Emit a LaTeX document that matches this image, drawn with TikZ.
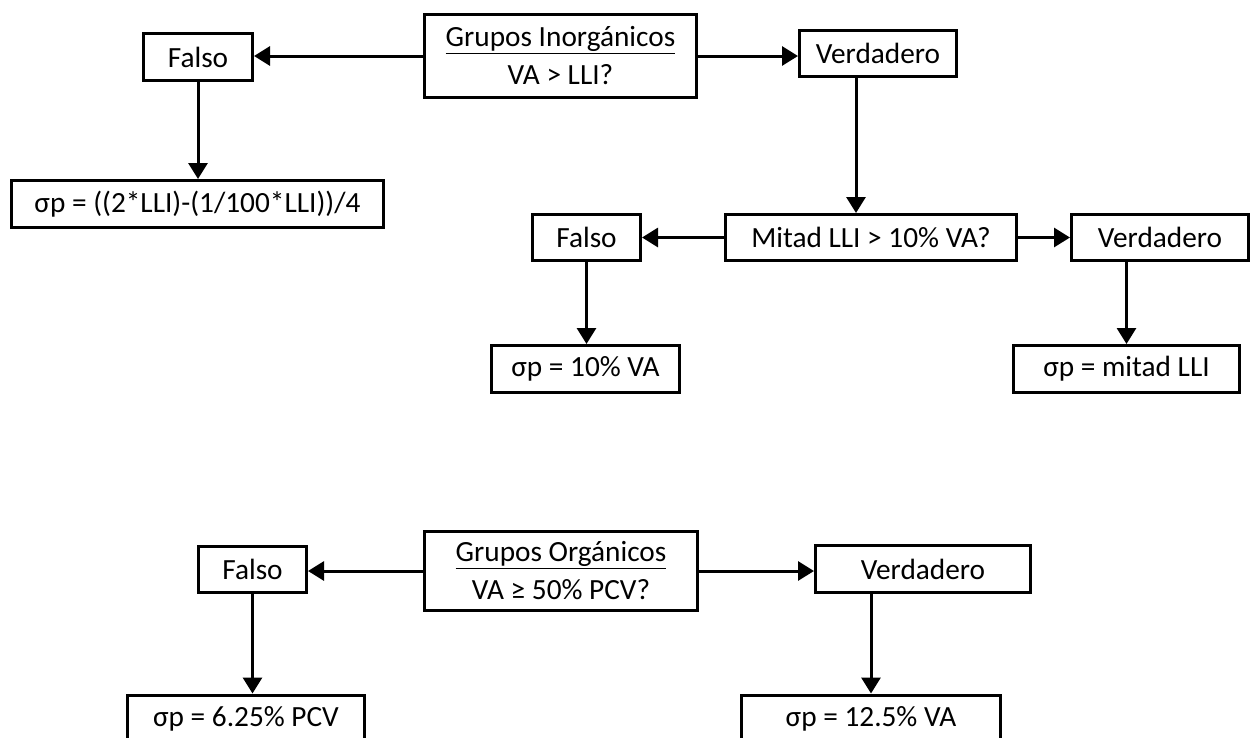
\documentclass[tikz,border=0pt]{standalone}
\usepackage{fontspec}
\setmainfont{Carlito}
\usetikzlibrary{arrows.meta}
\begin{document}
\begin{tikzpicture}[x=1pt,y=-1pt,
  box/.style={draw,line width=3pt,rectangle,inner sep=0pt,align=center,
    font=\fontsize{29.3}{38}\selectfont},
  arr/.style={line width=3pt,-{Triangle[length=16pt,width=19pt]}}]
\clip (0,0) rectangle (1251,737);
\fill[white] (0,0) rectangle (1251,737);
% ---- inorganic part
\node[box,minimum width=272pt,minimum height=83pt] (gi) at (560.5,56) {\underline{Grupos Inorgánicos}\\VA > LLI?};
\node[box,minimum width=109pt,minimum height=47pt] (f1) at (198,57) {Falso};
\node[box,minimum width=157pt,minimum height=46pt] (v1) at (878,53.5) {Verdadero};
\node[box,minimum width=372pt,minimum height=47pt] (s1) at (197.5,204) {σp = ((2*LLI)-(1/100*LLI))/4};
\node[box,minimum width=291pt,minimum height=46pt] (mi) at (871,237.5) {Mitad LLI > 10\% VA?};
\node[box,minimum width=108pt,minimum height=46pt] (f2) at (586.5,237.5) {Falso};
\node[box,minimum width=177pt,minimum height=46pt] (v2) at (1160,237.5) {Verdadero};
\node[box,minimum width=188pt,minimum height=47pt] (s2) at (585.5,369) {σp = 10\% VA};
\node[box,minimum width=226pt,minimum height=47pt] (s3) at (1126.5,369) {σp = mitad LLI};
\draw[arr] (gi.west) -- (gi.west -| f1.east);
\draw[arr] (gi.east) -- (gi.east -| v1.west);
\draw[arr] (f1.south) -- (f1.south |- s1.north);
\draw[arr] ([xshift=-22pt]v1.south) -- ([xshift=-22pt]v1.south |- mi.north);
\draw[arr] (mi.west) -- (f2.east);
\draw[arr] (mi.east) -- (v2.west);
\draw[arr] (f2.south) -- (f2.south |- s2.north);
\draw[arr] (s3.north |- v2.south) -- (s3.north);
% ---- organic part
\node[box,minimum width=273pt,minimum height=79pt] (go) at (561,571) {\underline{Grupos Orgánicos}\\VA ≥ 50\% PCV?};
\node[box,minimum width=108pt,minimum height=46pt] (f3) at (252.5,569.5) {Falso};
\node[box,minimum width=215pt,minimum height=47pt] (v3) at (923,569) {Verdadero};
\node[box,minimum width=237pt,minimum height=47pt] (s4) at (246,718.5) {σp = 6.25\% PCV};
\node[box,minimum width=259pt,minimum height=47pt] (s5) at (871,718.5) {σp = 12.5\% VA};
\draw[arr] (go.west) -- (go.west -| f3.east);
\draw[arr] (go.east) -- (go.east -| v3.west);
\draw[arr] (f3.south) -- (f3.south |- s4.north);
\draw[arr] (s5.north |- v3.south) -- (s5.north);
\end{tikzpicture}
\end{document}
